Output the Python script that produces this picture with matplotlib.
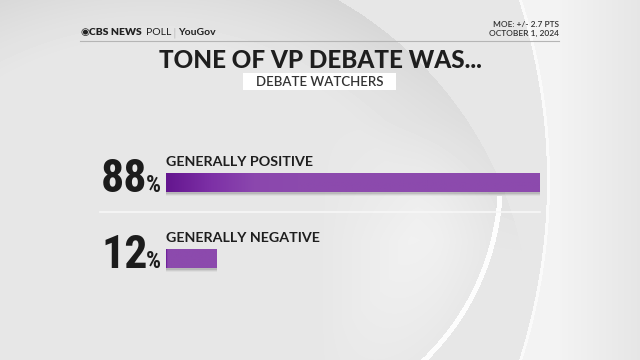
#!/usr/bin/env python3
import numpy as np
import matplotlib
matplotlib.use("Agg")
import matplotlib.pyplot as plt
from matplotlib.patches import Rectangle
from matplotlib.colors import LinearSegmentedColormap

# Chart data
categories = ["GENERALLY POSITIVE", "GENERALLY NEGATIVE"]
values = [88, 12]
title = "TONE OF VP DEBATE WAS..."
subtitle = "DEBATE WATCHERS"
moe_lines = ["MOE: +/- 2.7 PTS", "OCTOBER 1, 2024"]

W, H = 640, 360


def background():
    # soft grey studio backdrop with large curved shapes
    yy, xx = np.mgrid[0:H, 0:W].astype(float)
    img = np.full((H, W), 0.905)

    # crescent shadow near the edge of a big sphere
    d_s = np.hypot(xx - 150, yy - 330) - 380
    band = (d_s < 0) & (d_s > -90)
    img[band] -= 0.07 * (1 + d_s[band] / 90) * np.clip(1 - yy[band] / 260, 0, 1)
    # bright inner part of the sphere (lower right only, smooth)
    d_w = np.hypot(xx - 250, yy - 180) - 250
    inner = (d_w < 0) & (d_s < 0)
    ramp = np.clip((xx - 320) / 120, 0, 1) * np.clip((yy - 120) / 120, 0, 1)
    img[inner] += 0.05 * np.clip(-d_w[inner] / 80, 0, 1) * ramp[inner]
    # white rim line
    rim = (np.abs(d_w) < 2.5) & (yy > 195) & (xx > 380)
    img[rim] = 0.99

    # outer big arc on the right
    d_o = np.hypot(xx + 45, yy - 180) - 593
    right = d_o > 0
    img[right] = 0.95 - 0.05 * np.clip((xx[right] - 560) / 80, 0, 1)
    img[np.abs(d_o) < 1.5] = 0.98
    return np.clip(img, 0, 1)


fig = plt.figure(figsize=(6.4, 3.6), dpi=100)

# layout axes in pixel units
bg = fig.add_axes([0, 0, 1, 1])
bg.set_xlim(0, W)
bg.set_ylim(H, 0)
bg.axis("off")
bg.imshow(background(), cmap="gray", vmin=0, vmax=1,
          extent=(0, W, H, 0), aspect="auto", interpolation="bilinear")

# header
fam = ["Lato", "DejaVu Sans"]
hdr = dict(fontsize=7.5, color="#222222", va="baseline", family=fam)
bg.text(80, 35, "\u25c9", fontsize=7.5, color="#222222", va="baseline",
        family="DejaVu Sans")
bg.text(89, 35, "CBS NEWS", fontweight="heavy", **hdr)
bg.text(146, 35, "POLL", fontweight="normal", **hdr)
bg.text(172.5, 35, "|", fontweight="light", fontsize=8, color="#aaaaaa",
        va="baseline")
bg.text(178, 35, "YouGov", fontweight="bold", **hdr)
bg.plot([80, 559], [41, 41], color="#b5b5b5", lw=0.8)
bg.text(559, 27.3, moe_lines[0], ha="right", va="baseline", fontsize=6,
        color="#333333", family=fam, fontweight="semibold")
bg.text(559, 36, moe_lines[1], ha="right", va="baseline", fontsize=6,
        color="#333333", family=fam, fontweight="semibold")

# title and subtitle box
bg.text(320, 68, title, ha="center", va="baseline", fontsize=17.5,
        fontweight="black", family=fam, color="#1e1e1e")
bg.add_patch(Rectangle((243, 73), 153, 17, facecolor="white", edgecolor="none"))
bg.text(320, 86, subtitle, ha="center", va="baseline", fontsize=9.5,
        fontweight="semibold", family=fam, color="#333333")

# divider between rows
bg.plot([100, 540], [212, 212], color="#f7f7f7", lw=1.2)

# bar axes: 0..100 percent mapped onto the bar track
x0, px_per_pt = 166, 4.25
ax = fig.add_axes([x0 / W, 0, 100 * px_per_pt / W, 1])
ax.set_xlim(0, 100)
ax.set_ylim(H, 0)
ax.axis("off")
ax.patch.set_alpha(0)

centers = [182.5, 258.5]
bar_h = 19
grad = LinearSegmentedColormap.from_list(
    "purp", ["#64168f", "#7d30a6", "#8b47ae", "#8c4aad"])

bars = ax.barh(centers, values, height=bar_h, color="#8c4aad", zorder=3)
for bar, v, c in zip(bars, values, centers):
    # soft drop shadow
    for k, a in enumerate([0.10, 0.07, 0.04]):
        ax.add_patch(Rectangle((0, c - bar_h / 2 + 2 + k), v, bar_h,
                               facecolor="black", alpha=a, edgecolor="none",
                               zorder=2))
    g = np.linspace(0, 1, 256).reshape(1, -1)
    g = np.clip(g * 100 / max(v, 1) * 2.5, 0, 1)
    im = ax.imshow(g, cmap=grad, extent=(0, v, c + bar_h / 2, c - bar_h / 2),
                   aspect="auto", zorder=4)
    im.set_clip_path(bar)

# labels and percentages
big = dict(fontweight="bold",
           family=["Roboto Condensed", "Liberation Sans Narrow", "DejaVu Sans"],
           color="#1c1c1c", zorder=5)
nums = []
for cat, v, c in zip(categories, values, centers):
    top = c - bar_h / 2
    ax.text(0, top - 7, cat, ha="left", va="baseline", fontsize=10.3,
            fontweight="bold", family=fam, color="#1e1e1e", zorder=5)
    num = bg.text(101, c + bar_h / 2, f"{v}", ha="left", va="baseline",
                  fontsize=33, **big)
    nums.append((num, c + bar_h / 2))

# put the % sign right after each number, on the same baseline
fig.canvas.draw()
inv = bg.transData.inverted()
for num, base in nums:
    x_end = inv.transform(num.get_window_extent().p1)[0]
    bg.text(x_end - 1.5, base, "%", ha="left", va="baseline", fontsize=17, **big)

fig.savefig("out.png", dpi=100)
